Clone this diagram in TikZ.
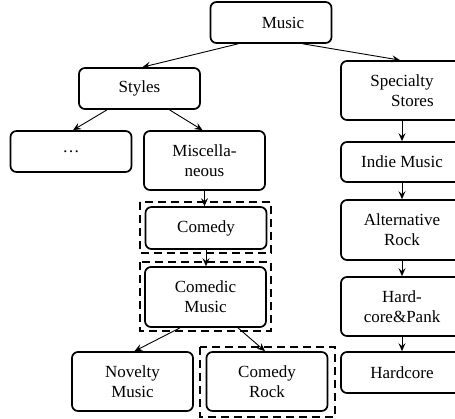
\documentclass[tikz,border=0pt]{standalone}
\usepackage{fontspec}
\setmainfont{Liberation Serif}
\usepackage{tikz}
\usetikzlibrary{positioning,calc,arrows.meta}

\begin{document}
\begin{tikzpicture}[x=1pt,y=-1pt,
        box/.style={draw,line width=1.7pt,rounded corners=6pt,minimum width=121pt,align=center,font=\fontsize{17}{20}\selectfont,inner sep=0pt},
        lowbox/.style={box,minimum height=41pt},
        highbox/.style={box,minimum height=59pt},
        arr/.style={-{Stealth[length=8pt,width=7pt,inset=3pt]},line width=0.9pt},
        frame/.style={draw,line width=1.7pt,dash pattern=on 8pt off 5pt}]
        \path[use as bounding box,clip] (0,0) rectangle (455,419);
        \node[lowbox] (music) at (271,22.5) {\hspace*{24pt}Music};
        \node[lowbox] (styles) at (139.5,88.5) {Styles};
        \node[lowbox] (dots) at (71,151.5) {\dots};
        \node[highbox] (misc) at (204.5,160.5) {Miscella-\\neous};
        \node[lowbox,minimum height=42pt] (comedy) at (206,228) {Comedy};
        \node[highbox,minimum height=60pt] (comedic) at (205.5,297) {Comedic\\Music};
        \node[highbox] (novelty) at (132.5,381.5) {Novelty\\Music};
        \node[highbox] (crock) at (267,381.5) {Comedy\\Rock};
        \node[highbox,minimum width=122pt,align=right] (specialty) at (402,90.5) {Specialty\\Stores};
        \node[lowbox,minimum width=122pt,minimum height=40pt] (indie) at (402,162) {Indie Music};
        \node[highbox,minimum width=122pt,minimum height=60pt] (alt) at (402,230) {Alternative\\Rock};
        \node[highbox,minimum width=122pt] (hard) at (402,306.5) {Hard-\\core\&Pank};
        \node[lowbox,minimum width=122pt] (hardcore) at (402,372.5) {Hardcore};
        
        \draw[frame] (140,202) rectangle (271,253);
        \draw[frame] (140,262) rectangle (271,331);
        \draw[frame] (200,347) rectangle (335,417);
        
        \draw[arr] ([xshift=-33pt]music.south) -- ([xshift=3pt]styles.north);
        \draw[arr] ([xshift=32pt]music.south) -- ([xshift=-2pt]specialty.north);
        \draw[arr] ([xshift=-32.5pt]styles.south) -- ([xshift=2pt]dots.north);
        \draw[arr] ([xshift=30pt]styles.south) -- ([xshift=-2pt]misc.north);
        \draw[arr] (misc.south) -- (misc.south |- comedy.north);
        \draw[arr] (comedy.south) -- (comedy.south |- comedic.north);
        \draw[arr] ([xshift=-25.5pt]comedic.south) -- ([xshift=2pt]novelty.north);
        \draw[arr] ([xshift=32.5pt]comedic.south) -- ([xshift=-2pt]crock.north);
        \draw[arr] (specialty) -- (indie);
        \draw[arr] (indie) -- (alt);
        \draw[arr] (alt) -- (hard);
        \draw[arr] (hard) -- (hardcore);
    \end{tikzpicture}
\end{document}
